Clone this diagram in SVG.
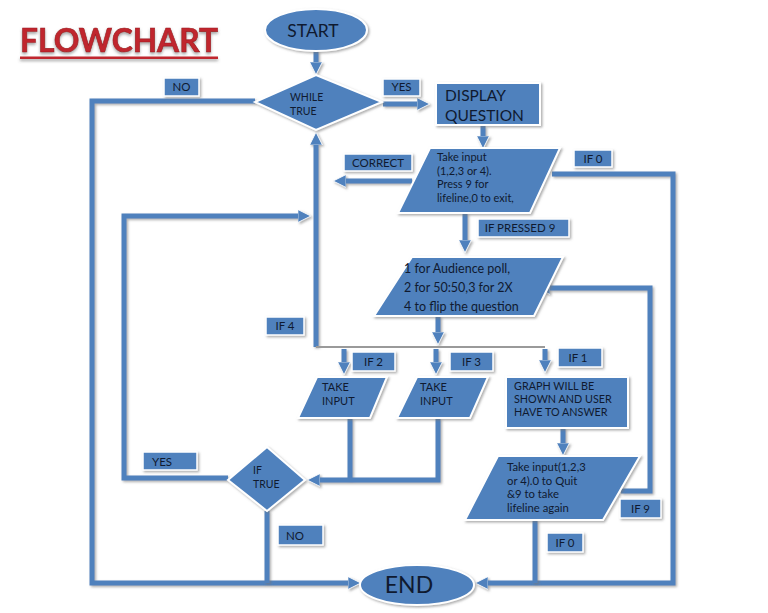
<svg xmlns="http://www.w3.org/2000/svg" width="768" height="613" viewBox="0 0 768 613">
<defs>
<filter id="sd" filterUnits="userSpaceOnUse" x="0" y="0" width="768" height="613"><feDropShadow dx="1.5" dy="1.5" stdDeviation="1" flood-color="#777" flood-opacity="0.6"/></filter>
<filter id="ts" filterUnits="userSpaceOnUse" x="0" y="0" width="300" height="90"><feDropShadow dx="0" dy="2" stdDeviation="1.5" flood-color="#666" flood-opacity="0.6"/></filter>
<marker id="ah" viewBox="0 0 12 12" refX="2" refY="6" markerWidth="13" markerHeight="13" markerUnits="userSpaceOnUse" orient="auto"><path d="M0,0 L12,6 L0,12 z" fill="#4f81bd" stroke="#fff" stroke-width="0.8"/></marker>
</defs>
<style>
.sh{fill:#4f81bd;stroke:#fff;stroke-width:2;filter:url(#sd)}
.lb{fill:#4f81bd;stroke:#fff;stroke-width:1.5;filter:url(#sd)}
.c{fill:none;stroke:#4f81bd;stroke-width:5;filter:url(#sd)}
.ca{fill:none;stroke:#4f81bd;stroke-width:5;marker-end:url(#ah);filter:url(#sd)}
.t{font-family:Lato,"Liberation Sans",sans-serif;fill:#0f1a30}
.lt{font-family:Lato,"Liberation Sans",sans-serif;font-size:11.5px;fill:#0f1a30;text-anchor:middle}
</style>
<g id="title" filter="url(#ts)">
<text x="20" y="52" font-family="Lato,'Liberation Sans',sans-serif" font-weight="bold" font-size="32" textLength="198" lengthAdjust="spacingAndGlyphs" fill="#c0272d" stroke="#9c1c20" stroke-width="0.6">FLOWCHART</text>
<rect x="20" y="56.5" width="198" height="2.5" fill="#c0272d"/>
</g>
<g id="connectors">
<path class="ca" d="M316,51 L316,64"/>
<path class="ca" d="M383,104 L419,104"/>
<path class="ca" d="M483,126 L483,138"/>
<path class="ca" d="M412,181 L344,181"/>
<path class="ca" d="M316,347 L316,143"/>
<path class="ca" d="M465,213 L465,242"/>
<path class="ca" d="M438,316 L438,334"/>
<path d="M316,347 L545,347" fill="none" stroke="#9a9a9a" stroke-width="2"/>
<path class="ca" d="M344,349 L344,364"/>
<path class="ca" d="M436,349 L436,364"/>
<path class="ca" d="M545,349 L545,362"/>
<path class="c" d="M350,418 L350,480"/>
<path class="ca" d="M438,418 L438,480 L318,480"/>
<path class="ca" d="M228,478 L124,478 L124,216 L300,216"/>
<path class="ca" d="M255,101 L92,101 L92,583 L350,583"/>
<path class="c" d="M267,511 L267,583"/>
<path class="ca" d="M552,174 L673,174 L673,583 L486,583"/>
<path class="c" d="M535,520 L535,583"/>
<path class="ca" d="M563,428 L563,445"/>
<path class="ca" d="M621,491 L650,491 L650,288 L548,288"/>
</g>
<g id="start">
<ellipse class="sh" cx="316" cy="30" rx="51" ry="21"/>
<text class="t" x="313" y="37" font-size="17.5" text-anchor="middle">START</text>
</g>
<g id="while">
<polygon class="sh" points="316,75 382,102 316,130 255,102"/>
<text class="t" x="290" y="101" font-size="10.5">WHILE</text>
<text class="t" x="290" y="115" font-size="10.5">TRUE</text>
</g>
<g id="display">
<rect class="sh" x="436" y="83" width="104" height="42"/>
<text class="t" x="445" y="101" font-size="15.5">DISPLAY</text>
<text class="t" x="445" y="121" font-size="15.5">QUESTION</text>
</g>
<g id="input1">
<polygon class="sh" points="430,148 560,148 530,213 398,213"/>
<text class="t" x="437" y="161" font-size="11">Take input</text>
<text class="t" x="437" y="174.5" font-size="11">(1,2,3 or 4).</text>
<text class="t" x="437" y="188" font-size="11">Press 9 for</text>
<text class="t" x="437" y="201.5" font-size="11">lifeline,0 to exit,</text>
</g>
<g id="lifeline">
<polygon class="sh" points="412,257 563,257 534,316 374,316"/>
<text class="t" x="404" y="273" font-size="12.5">1 for Audience poll,</text>
<text class="t" x="404" y="292" font-size="12.5">2 for 50:50,3 for 2X</text>
<text class="t" x="404" y="311" font-size="12.5">4 to flip the question</text>
</g>
<g id="takeinput2">
<polygon class="sh" points="317,377 387,377 370,418 298,418"/>
<text class="t" x="322" y="391" font-size="11">TAKE</text>
<text class="t" x="322" y="405" font-size="11">INPUT</text>
</g>
<g id="takeinput3">
<polygon class="sh" points="417,377 488,377 470,418 397,418"/>
<text class="t" x="420" y="391" font-size="11">TAKE</text>
<text class="t" x="420" y="405" font-size="11">INPUT</text>
</g>
<g id="graph">
<rect class="sh" x="506" y="377" width="122" height="51"/>
<text class="t" x="514" y="390" font-size="10.8">GRAPH WILL BE</text>
<text class="t" x="514" y="403" font-size="10.8">SHOWN AND USER</text>
<text class="t" x="514" y="416" font-size="10.8">HAVE TO ANSWER</text>
</g>
<g id="input2">
<polygon class="sh" points="498,456 640,456 603,520 465,520"/>
<text class="t" x="507" y="471" font-size="11.3">Take input(1,2,3</text>
<text class="t" x="507" y="484.5" font-size="11.3">or 4).0 to Quit</text>
<text class="t" x="507" y="498" font-size="11.3">&amp;9 to take</text>
<text class="t" x="507" y="511.5" font-size="11.3">lifeline again</text>
</g>
<g id="iftrue">
<polygon class="sh" points="267,447 305,480 267,511 228,480"/>
<text class="t" x="253" y="474" font-size="10.5">IF</text>
<text class="t" x="253" y="488" font-size="10.5">TRUE</text>
</g>
<g id="end">
<ellipse class="sh" cx="417" cy="585" rx="57" ry="20"/>
<text class="t" x="409" y="593" font-size="23" text-anchor="middle">END</text>
</g>
<g id="labels">
<rect class="lb" x="164" y="78" width="35" height="18"/><text class="lt" x="181.5" y="91">NO</text>
<rect class="lb" x="383" y="79" width="37" height="17"/><text class="lt" x="401.5" y="91">YES</text>
<rect class="lb" x="344" y="154" width="68" height="17"/><text class="lt" x="378" y="167">CORRECT</text>
<rect class="lb" x="574" y="150" width="38" height="17"/><text class="lt" x="593" y="163">IF 0</text>
<rect class="lb" x="478" y="219" width="91" height="18"/><text class="lt" x="520" y="232">IF PRESSED 9</text>
<rect class="lb" x="266" y="317" width="38" height="18"/><text class="lt" x="285" y="330">IF 4</text>
<rect class="lb" x="352" y="352" width="43" height="19"/><text class="lt" x="373.5" y="366">IF 2</text>
<rect class="lb" x="450" y="352" width="43" height="19"/><text class="lt" x="471.5" y="366">IF 3</text>
<rect class="lb" x="558" y="348" width="44" height="19"/><text class="lt" x="578" y="362">IF 1</text>
<rect class="lb" x="143" y="452" width="54" height="18"/><text class="lt" x="162" y="466">YES</text>
<rect class="lb" x="278" y="525" width="45" height="20"/><text class="lt" x="295" y="540">NO</text>
<rect class="lb" x="620" y="499" width="41" height="19"/><text class="lt" x="640.5" y="513">IF 9</text>
<rect class="lb" x="547" y="533" width="36" height="19"/><text class="lt" x="565" y="547">IF 0</text>
</g>
</svg>
